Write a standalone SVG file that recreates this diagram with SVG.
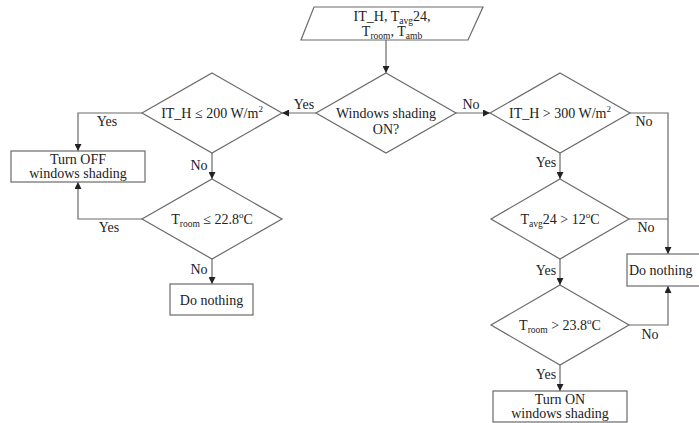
<svg xmlns="http://www.w3.org/2000/svg" width="699" height="423" viewBox="0 0 699 423">
<style>
.s{fill:#fff;stroke:#6a6a6a;stroke-width:1.2}
.c{fill:none;stroke:#6a6a6a;stroke-width:1.2}
text{font-family:"Liberation Serif","Times New Roman",serif;font-size:14px;fill:#222}
.m{text-anchor:middle}
.sub{font-size:9.5px}
.sup{font-size:9px}
</style>
<defs>
<marker id="a" viewBox="0 0 10 10" refX="10" refY="5" markerWidth="7" markerHeight="7" orient="auto" markerUnits="userSpaceOnUse">
<path d="M0,0 L10,5 L0,10 z" fill="#222"/>
</marker>
</defs>
<rect width="699" height="423" fill="#fff"/>
<g id="connectors">
<path class="c" d="M386,40 V73" marker-end="url(#a)"/>
<path class="c" d="M316,113 H282" marker-end="url(#a)"/>
<path class="c" d="M455,113 H490" marker-end="url(#a)"/>
<path class="c" d="M142,113 H78 V151" marker-end="url(#a)"/>
<path class="c" d="M212,153 V179" marker-end="url(#a)"/>
<path class="c" d="M142,219 H78 V182" marker-end="url(#a)"/>
<path class="c" d="M212,259 V284" marker-end="url(#a)"/>
<path class="c" d="M560,153 V179" marker-end="url(#a)"/>
<path class="c" d="M560,259 V285" marker-end="url(#a)"/>
<path class="c" d="M560,365 V391" marker-end="url(#a)"/>
<path class="c" d="M630,113 H668 V254" marker-end="url(#a)"/>
<path class="c" d="M629,219 H668"/>
<path class="c" d="M629,325 H668 V286" marker-end="url(#a)"/>
<text x="304" y="109" class="m">Yes</text>
<text x="471" y="109" class="m">No</text>
<text x="107" y="126" class="m">Yes</text>
<text x="199" y="170" class="m">No</text>
<text x="109" y="232" class="m">Yes</text>
<text x="199" y="274" class="m">No</text>
<text x="644" y="126" class="m">No</text>
<text x="546" y="167" class="m">Yes</text>
<text x="646" y="232" class="m">No</text>
<text x="546" y="275" class="m">Yes</text>
<text x="650" y="339" class="m">No</text>
<text x="546" y="379" class="m">Yes</text>
</g>
<g id="input">
<polygon class="s" points="314,7 483,7 468,40 301,40"/>
<text x="392" y="21" class="m">IT_H, T<tspan class="sub" dy="3">avg</tspan><tspan dy="-3">24,</tspan></text>
<text x="392" y="36" class="m">T<tspan class="sub" dy="3">room</tspan><tspan dy="-3">, T</tspan><tspan class="sub" dy="3">amb</tspan></text>
</g>
<g id="shading-on">
<polygon class="s" points="386,73 456,113 386,153 316,113"/>
<text x="386" y="118" class="m">Windows shading</text>
<text x="386" y="134" class="m">ON?</text>
</g>
<g id="ith-le-200">
<polygon class="s" points="212,73 282,113 212,153 142,113"/>
<text x="212" y="118" class="m">IT_H ≤ 200 W/m<tspan class="sup" dy="-6">2</tspan></text>
</g>
<g id="turn-off">
<rect class="s" x="11" y="151" width="134" height="31"/>
<text x="78" y="164" class="m">Turn OFF</text>
<text x="78" y="178" class="m">windows shading</text>
</g>
<g id="troom-le">
<polygon class="s" points="212,179 282,219 212,259 142,219"/>
<text x="212" y="224" class="m">T<tspan class="sub" dy="3">room</tspan><tspan dy="-3"> ≤ 22.8</tspan><tspan class="sup" dy="-6">o</tspan><tspan dy="6">C</tspan></text>
</g>
<g id="do-nothing-left">
<rect class="s" x="170" y="284" width="83" height="31"/>
<text x="211.5" y="305" class="m">Do nothing</text>
</g>
<g id="ith-gt-300">
<polygon class="s" points="560,73 630,113 560,153 490,113"/>
<text x="560" y="118" class="m">IT_H &gt; 300 W/m<tspan class="sup" dy="-6">2</tspan></text>
</g>
<g id="tavg-gt">
<polygon class="s" points="560,179 629,219 560,259 491,219"/>
<text x="560" y="224" class="m">T<tspan class="sub" dy="3">avg</tspan><tspan dy="-3">24 &gt; 12</tspan><tspan class="sup" dy="-6">o</tspan><tspan dy="6">C</tspan></text>
</g>
<g id="do-nothing-right">
<rect class="s" x="627" y="254" width="80" height="32"/>
<text x="629" y="275">Do nothing</text>
</g>
<g id="troom-gt">
<polygon class="s" points="560,285 629,325 560,365 491,325"/>
<text x="560" y="330" class="m">T<tspan class="sub" dy="3">room</tspan><tspan dy="-3"> &gt; 23.8</tspan><tspan class="sup" dy="-6">o</tspan><tspan dy="6">C</tspan></text>
</g>
<g id="turn-on">
<rect class="s" x="493" y="391" width="134" height="31"/>
<text x="560" y="404" class="m">Turn ON</text>
<text x="560" y="418" class="m">windows shading</text>
</g>
</svg>
